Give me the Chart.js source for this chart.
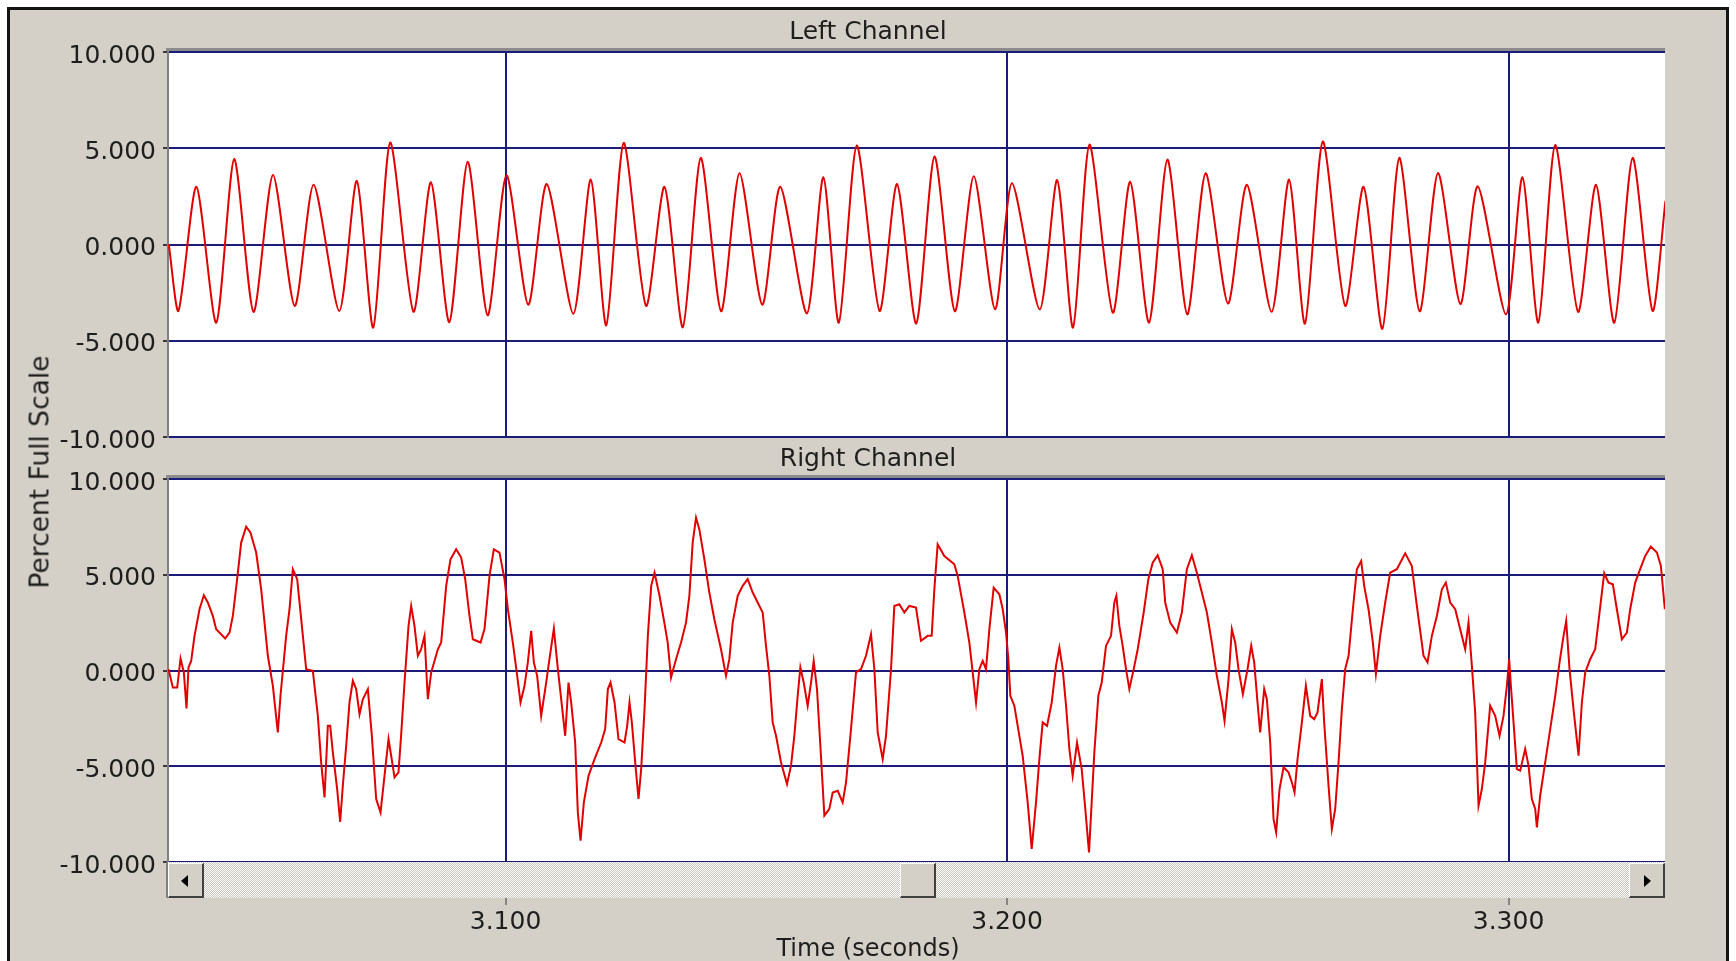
<!DOCTYPE html>
<html>
<head>
<meta charset="utf-8">
<title>Left / Right Channel</title>
<script src="https://cdn.jsdelivr.net/npm/chart.js@4.4.1/dist/chart.umd.min.js"></script>
<style>
  html, body { margin: 0; padding: 0; background: #ffffff; }
  body { width: 1736px; height: 961px; position: relative; overflow: hidden; font-family: "DejaVu Sans", sans-serif; }
  #frame { position: absolute; left: 7px; top: 7px; width: 1716px; height: 990px; border: 3px solid #141414; background: #d4d0c8; }
  canvas { position: absolute; left: 0; }
  #chartLeft { top: 0; }
  #chartRight { top: 440px; }
  #yTitle { position: absolute; left: 39px; top: 472px; transform: translate(-50%, -50%) rotate(-90deg); font-size: 26.5px; color: #1e1e1e; white-space: nowrap; }
  #scroll { position: absolute; left: 166px; top: 862px; width: 1497px; height: 36px; border-left: 2px solid #808080;
            background: repeating-conic-gradient(#c9c5bd 0 25%, #ffffff 0 50%) 0 0 / 2px 2px; }
  .btn { position: absolute; top: 1px; height: 35px; box-sizing: border-box; background: #d4d0c8;
         border-style: solid; border-width: 1px 2px 2px 1px; border-color: #ffffff #404040 #404040 #ffffff; }
  #btnLeft { left: 0; width: 36px; }
  #btnRight { right: 0; width: 36px; }
  #thumb { left: 732px; width: 36px; }
  .arrow { position: absolute; top: 11px; width: 0; height: 0; border-top: 6px solid transparent; border-bottom: 6px solid transparent; }
  #btnLeft .arrow { left: 12px; border-right: 7px solid #000; }
  #btnRight .arrow { left: 14px; border-left: 7px solid #000; }
</style>
</head>
<body>
<div id="frame"></div>
<canvas id="chartLeft" width="1736" height="460"></canvas>
<canvas id="chartRight" width="1736" height="521"></canvas>
<div id="yTitle">Percent Full Scale</div>
<div id="scroll">
  <div class="btn" id="btnLeft"><div class="arrow"></div></div>
  <div class="btn" id="thumb"></div>
  <div class="btn" id="btnRight"><div class="arrow"></div></div>
</div>
<script>
// time axis (seconds)
const timeRange = [3.0327, 3.3312];
const timeTicks = [3.1, 3.2, 3.3];
const percentTicks = [-10, -5, 0, 5, 10];

// Left channel: peaks and troughs
const leftTime = [
  3.03286, 3.03479, 3.03836, 3.04232, 3.04590, 3.04976, 3.05363, 3.05797, 3.06174, 3.06686,
  3.07034, 3.07363, 3.07701, 3.08164, 3.08512, 3.08879, 3.09246, 3.09643, 3.10019, 3.10454,
  3.10821, 3.11353, 3.11700, 3.12009, 3.12357, 3.12802, 3.13169, 3.13536, 3.13893, 3.14299,
  3.14666, 3.15120, 3.15478, 3.16009, 3.16338, 3.16647, 3.17004, 3.17458, 3.17806, 3.18190,
  3.18554, 3.18960, 3.19337, 3.19762, 3.20099, 3.20653, 3.21000, 3.21317, 3.21644, 3.22109,
  3.22455, 3.22832, 3.23198, 3.23594, 3.23960, 3.24406, 3.24782, 3.25277, 3.25624, 3.25941,
  3.26297, 3.26743, 3.27109, 3.27485, 3.27822, 3.28228, 3.28594, 3.29040, 3.29386, 3.29950,
  3.30277, 3.30594, 3.30931, 3.31386, 3.31743, 3.32109, 3.32475, 3.32871, 3.33129
];
const leftPercent = [
  0.00, -3.45, 3.00, -4.06, 4.44, -3.50, 3.61, -3.19, 3.10, -3.45,
  3.30, -4.32, 5.30, -3.49, 3.23, -4.03, 4.30, -3.68, 3.60, -3.13,
  3.14, -3.60, 3.37, -4.20, 5.28, -3.19, 3.00, -4.30, 4.50, -3.47,
  3.70, -3.13, 3.00, -3.58, 3.49, -4.06, 5.14, -3.45, 3.14, -4.10,
  4.57, -3.47, 3.54, -3.37, 3.18, -3.37, 3.35, -4.32, 5.19, -3.54,
  3.26, -4.06, 4.41, -3.63, 3.70, -3.07, 3.10, -3.50, 3.37, -4.11,
  5.35, -3.19, 3.00, -4.38, 4.50, -3.47, 3.72, -3.10, 3.02, -3.63,
  3.49, -4.06, 5.17, -3.50, 3.10, -4.06, 4.50, -3.45, 2.27
];

// Right channel: traced vertices
const rightTime = [
  3.03280, 3.03367, 3.03453, 3.03520, 3.03586, 3.03639, 3.03679, 3.03732,
  3.03799, 3.03898, 3.03985, 3.04064, 3.04164, 3.04231, 3.04410, 3.04497,
  3.04563, 3.04649, 3.04729, 3.04829, 3.04915, 3.05028, 3.05128, 3.05261,
  3.05361, 3.05460, 3.05513, 3.05626, 3.05693, 3.05759, 3.05846, 3.05926,
  3.06025, 3.06158, 3.06258, 3.06324, 3.06391, 3.06457, 3.06504, 3.06557,
  3.06643, 3.06703, 3.06756, 3.06823, 3.06889, 3.06956, 3.07022, 3.07089,
  3.07155, 3.07255, 3.07335, 3.07421, 3.07508, 3.07587, 3.07667, 3.07720,
  3.07787, 3.07866, 3.07920, 3.07986, 3.08066, 3.08119, 3.08185, 3.08252,
  3.08318, 3.08385, 3.08451, 3.08518, 3.08651, 3.08717, 3.08817, 3.08903,
  3.09016, 3.09116, 3.09196, 3.09282, 3.09349, 3.09502, 3.09581, 3.09681,
  3.09767, 3.09880, 3.09980, 3.10047, 3.10146, 3.10233, 3.10299, 3.10379,
  3.10445, 3.10512, 3.10565, 3.10631, 3.10711, 3.10811, 3.10857, 3.10964,
  3.11044, 3.11110, 3.11190, 3.11256, 3.11309, 3.11389, 3.11442, 3.11496,
  3.11562, 3.11655, 3.11775, 3.11908, 3.11987, 3.12041, 3.12094, 3.12174,
  3.12253, 3.12373, 3.12426, 3.12473, 3.12519, 3.12586, 3.12652, 3.12705,
  3.12772, 3.12838, 3.12905, 3.12971, 3.13071,
  3.13167, 3.13234, 3.13300, 3.13400, 3.13500, 3.13599, 3.13666, 3.13732,
  3.13799, 3.13865, 3.13965, 3.14064, 3.14164, 3.14297, 3.14397, 3.14463,
  3.14530, 3.14630, 3.14729, 3.14829, 3.14929, 3.15028, 3.15128, 3.15194,
  3.15261, 3.15327, 3.15394, 3.15494, 3.15613, 3.15693, 3.15759, 3.15826,
  3.15879, 3.15946, 3.16025, 3.16092, 3.16145, 3.16211, 3.16278, 3.16358,
  3.16457, 3.16524, 3.16624, 3.16723, 3.16790, 3.16889, 3.16989, 3.17089,
  3.17188, 3.17288, 3.17355, 3.17421, 3.17521, 3.17587, 3.17687, 3.17753,
  3.17853, 3.17953, 3.18052, 3.18185, 3.18285, 3.18418, 3.18498, 3.18551,
  3.18617, 3.18750, 3.18950, 3.19016, 3.19149, 3.19249, 3.19382, 3.19448,
  3.19515, 3.19581, 3.19648, 3.19734, 3.19847, 3.19914, 3.19980, 3.20027,
  3.20066, 3.20146, 3.20246, 3.20312, 3.20412, 3.20492, 3.20578, 3.20645,
  3.20711, 3.20798, 3.20891, 3.20977, 3.21044, 3.21110, 3.21177, 3.21243,
  3.21309, 3.21396, 3.21489, 3.21555, 3.21635, 3.21688, 3.21741, 3.21821,
  3.21888, 3.21974, 3.22074, 3.22140, 3.22180, 3.22240, 3.22306, 3.22373,
  3.22439, 3.22526, 3.22606, 3.22725, 3.22818, 3.22905, 3.23004, 3.23104,
  3.23154, 3.23254, 3.23387, 3.23486, 3.23586, 3.23686, 3.23785, 3.23885,
  3.23985, 3.24084, 3.24184, 3.24284, 3.24337, 3.24417, 3.24483, 3.24550,
  3.24616, 3.24703, 3.24796, 3.24869, 3.24929, 3.24995, 3.25048, 3.25128,
  3.25181, 3.25248, 3.25314, 3.25367, 3.25434, 3.25514, 3.25613, 3.25680,
  3.25733, 3.25793, 3.25879, 3.25959, 3.26045, 3.26125, 3.26191, 3.26278,
  3.26324, 3.26411, 3.26477, 3.26544, 3.26610, 3.26677, 3.26743, 3.26810,
  3.26896, 3.26976, 3.27062, 3.27122, 3.27208, 3.27295, 3.27355, 3.27441,
  3.27541, 3.27640, 3.27773, 3.27940, 3.28072, 3.28172, 3.28305, 3.28385,
  3.28471, 3.28571, 3.28671, 3.28750, 3.28837, 3.28937, 3.29036, 3.29136,
  3.29202, 3.29269, 3.29335, 3.29402, 3.29468, 3.29535, 3.29634, 3.29734,
  3.29821, 3.29900, 3.29967, 3.30013, 3.30047, 3.30100, 3.30166, 3.30233,
  3.30332, 3.30399, 3.30465, 3.30532, 3.30565, 3.30631, 3.30731, 3.30831,
  3.30931, 3.31017, 3.31097, 3.31150, 3.31216, 3.31296, 3.31396, 3.31462,
  3.31529, 3.31628, 3.31728, 3.31815, 3.31908, 3.31994, 3.32080, 3.32160,
  3.32260, 3.32360, 3.32426, 3.32526, 3.32625, 3.32725, 3.32838, 3.32958,
  3.33038, 3.33117
];
const rightPercent = [
  0.07, -0.89, -0.89, 0.63, -0.10, -1.98, 0.16, 0.50,
  1.81, 3.20, 3.93, 3.55, 2.85, 2.16, 1.67, 1.98,
  2.85, 4.77, 6.68, 7.51, 7.20, 6.16, 4.24, 0.77,
  -0.80, -3.23, -1.32, 1.81, 3.20, 5.29, 4.77, 2.68,
  0.07, -0.02, -2.37, -4.80, -6.63, -2.89, -2.89, -4.28,
  -6.19, -7.90, -6.02, -3.93, -1.67, -0.54, -0.97, -2.28,
  -1.50, -0.97, -3.41, -6.71, -7.41, -5.50, -3.58, -4.45,
  -5.58, -5.32, -3.32, -0.63, 2.33, 3.37, 2.33, 0.77,
  1.11, 1.81, -1.50, -0.10, 1.11, 1.46, 4.42, 5.81,
  6.33, 5.90, 4.77, 2.85, 1.63, 1.46, 2.16, 4.94,
  6.33, 6.16, 4.77, 3.20, 1.46, -0.28, -1.67, -0.80,
  0.42, 2.07, 0.42, -0.28, -2.37, -0.63, 0.24, 2.19,
  0.07, -1.50, -3.41, -0.63, -1.67, -3.76, -7.41, -8.89,
  -6.89, -5.50, -4.63, -3.76, -3.06, -0.97, -0.63, -1.67,
  -3.58, -3.76, -2.89, -1.67, -2.71, -4.80, -6.71, -5.15,
  -2.02, 1.81, 4.42, 5.11, 3.90,
  2.50, 1.46, -0.37, 0.59, 1.46, 2.50, 3.90, 6.68,
  7.98, 7.37, 5.81, 4.07, 2.68, 1.11, -0.28, 0.59,
  2.50, 3.90, 4.42, 4.77, 4.07, 3.55, 3.03, 1.29,
  -0.28, -2.71, -3.41, -4.80, -5.93, -4.97, -3.41, -1.32,
  0.16, -0.63, -1.84, -0.63, 0.50, -0.97, -3.93, -7.58,
  -7.23, -6.37, -6.28, -6.89, -5.84, -3.06, -0.10, 0.07,
  0.77, 1.90, 0.07, -3.23, -4.63, -3.41, 0.07, 3.37,
  3.46, 3.03, 3.37, 3.29, 1.55, 1.81, 1.81, 4.24,
  6.59, 5.98, 5.55, 4.94, 3.03, 1.46, -1.67, 0.07,
  0.50, 0.07, 2.16, 4.33, 3.98, 3.20, 1.98, 0.59,
  -1.32, -1.84, -3.41, -4.45, -6.89, -9.32, -6.89, -4.63,
  -2.71, -2.89, -1.67, 0.24, 1.20, 0.07, -1.84, -4.10,
  -5.50, -3.76, -5.15, -7.06, -9.50, -6.89, -4.28, -1.32,
  -0.63, 1.29, 1.81, 3.55, 3.90, 2.33, 1.29, 0.07,
  -0.97, 0.07, 1.11, 3.03, 4.77, 5.63, 6.02, 5.29,
  3.55, 2.50, 1.98, 3.03, 5.29, 6.02, 5.11, 4.07,
  3.03, 1.46, -0.28, -1.67, -2.63, -0.45, 2.16, 1.46,
  0.07, -1.23, 0.07, 1.29, 0.42, -1.67, -3.23, -0.97,
  -1.50, -3.76, -7.76, -8.45, -6.19, -5.06, -5.32, -5.84,
  -6.37, -4.63, -2.71, -0.80, -2.37, -2.54, -2.19, -0.45,
  -2.71, -6.02, -8.28, -7.23, -4.80, -2.02, 0.07, 0.77,
  3.20, 5.29, 5.72, 4.42, 3.20, 1.46, -0.19, 1.81,
  3.55, 5.11, 5.29, 6.12, 5.46, 3.37, 0.77, 0.42,
  1.81, 2.85, 4.24, 4.59, 3.55, 3.20, 2.16, 1.11,
  2.50, 0.24, -2.19, -7.06, -6.19, -4.80, -1.84, -2.37,
  -3.41, -2.37, -0.80, 0.59, -0.80, -2.71, -5.15, -5.23,
  -4.10, -4.97, -6.71, -7.23, -8.19, -6.54, -4.80, -3.06,
  -1.32, 0.42, 1.81, 2.59, 0.07, -2.02, -4.45, -1.67,
  -0.10, 0.59, 1.11, 3.03, 5.08, 4.59, 4.50, 3.20,
  1.63, 1.98, 3.20, 4.59, 5.29, 5.98, 6.47, 6.16,
  5.46, 3.20
];

const NAVY = '#1b1b7a';
const TEXT = '#1e1e1e';
const FONT = { family: 'DejaVu Sans', size: 25, weight: 'normal' };

// white plot area and the grey sunken edge above it
const panelPlugin = {
  id: 'panel',
  beforeDraw(chart) {
    const { ctx, chartArea: a } = chart;
    ctx.save();
    ctx.fillStyle = '#ffffff';
    ctx.fillRect(a.left, a.top, a.right - a.left, a.bottom - a.top);
    ctx.fillStyle = '#8c8c8c';
    ctx.fillRect(a.left - 2, a.top - 4, a.right - a.left + 2, 3);
    ctx.restore();
  }
};

function buildChart(id, title, times, values, cfg) {
  const points = times.map((t, i) => ({ x: t, y: values[i] }));
  return new Chart(document.getElementById(id), {
    type: 'line',
    data: {
      datasets: [{
        data: points,
        borderColor: '#e00000',
        borderWidth: 2,
        pointRadius: 0,
        tension: cfg.tension,
        fill: false
      }]
    },
    options: {
      responsive: false,
      animation: false,
      events: [],
      layout: { padding: cfg.padding },
      plugins: {
        legend: { display: false },
        tooltip: { enabled: false },
        title: { display: true, text: title, color: TEXT, font: FONT, padding: cfg.titlePadding },
        subtitle: cfg.subtitle || { display: false }
      },
      scales: {
        x: {
          type: 'linear',
          min: timeRange[0],
          max: timeRange[1],
          afterBuildTicks: s => { s.ticks = timeTicks.map(v => ({ value: v })); },
          ticks: {
            display: cfg.showTime,
            color: TEXT,
            font: FONT,
            padding: 2,
            maxRotation: 0,
            autoSkip: false,
            callback: v => Number(v).toFixed(3)
          },
          grid: {
            color: NAVY,
            lineWidth: 2,
            drawTicks: cfg.showTime,
            tickLength: 43,
            tickColor: '#3a3a3a',
            tickWidth: 1
          },
          border: { display: false },
          afterFit: s => { s.height = cfg.xHeight; }
        },
        y: {
          type: 'linear',
          min: -10,
          max: 10,
          afterBuildTicks: s => { s.ticks = percentTicks.map(v => ({ value: v })); },
          ticks: { color: TEXT, font: FONT, padding: 7, labelOffset: 4, callback: v => Number(v).toFixed(3) },
          grid: { color: NAVY, lineWidth: 2, tickLength: 5, tickColor: '#3a3a3a', tickWidth: 2 },
          border: { display: true, color: '#808080', width: 2 },
          afterFit: s => { s.width = 168; }
        },
        // empty strip on the right, so the titles stay centred on the window
        yPad: {
          type: 'linear',
          position: 'right',
          display: true,
          ticks: { display: false },
          grid: { display: false },
          border: { display: false },
          afterFit: s => { s.width = 71; }
        }
      }
    },
    plugins: [panelPlugin]
  });
}

buildChart('chartLeft', 'Left Channel', leftTime, leftPercent, {
  tension: 0.25,
  padding: { top: 0, left: 0, right: 0, bottom: 23 },
  titlePadding: { top: 17, bottom: 5 },
  showTime: false,
  xHeight: 0
});

buildChart('chartRight', 'Right Channel', rightTime, rightPercent, {
  tension: 0,
  padding: { top: 0, left: 0, right: 0, bottom: 0 },
  titlePadding: { top: 4, bottom: 5 },
  showTime: true,
  xHeight: 77.4,
  subtitle: {
    display: true,
    position: 'bottom',
    text: 'Time (seconds)',
    color: TEXT,
    font: { family: 'DejaVu Sans', size: 24, weight: 'normal', lineHeight: 0.9 },
    padding: { top: 0, bottom: 0 }
  }
});
</script>
</body>
</html>
